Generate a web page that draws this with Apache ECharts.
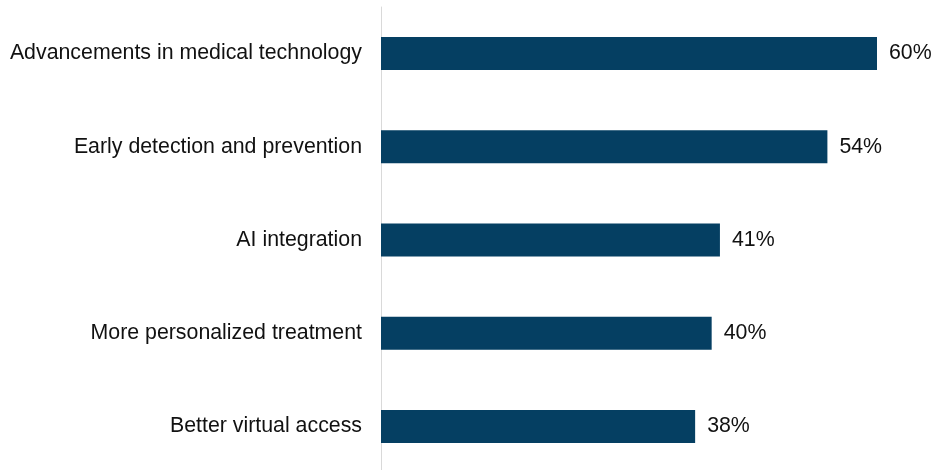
<!DOCTYPE html>
<html>
<head>
<meta charset="utf-8">
<script src="https://cdn.jsdelivr.net/npm/echarts@6/dist/echarts.min.js"></script>
<style>
  html, body { margin: 0; padding: 0; background: #ffffff; }
  #chart { width: 935px; height: 470px; }
</style>
</head>
<body>
<div id="chart"></div>
<script>
// Survey responses: share of respondents per item (percent)
const categories = [
  'Advancements in medical technology',
  'Early detection and prevention',
  'AI integration',
  'More personalized treatment',
  'Better virtual access'
];
const shares = [60, 54, 41, 40, 38];

const chart = echarts.init(document.getElementById('chart'), null, { renderer: 'canvas' });

chart.setOption({
  animation: false,
  grid: {
    left: 381, top: 7, width: 496, height: 466,
    containLabel: false,
    outerBoundsMode: 'none'
  },
  xAxis: {
    type: 'value',
    min: 0,
    max: 60,
    show: false
  },
  yAxis: {
    type: 'category',
    data: categories,
    inverse: true,
    axisLine: { show: true, lineStyle: { color: '#d9d9d9', width: 1 } },
    axisTick: { show: false },
    axisLabel: {
      margin: 19,
      color: '#111111',
      fontFamily: 'Liberation Sans, Arial, sans-serif',
      fontSize: 21.33
    }
  },
  series: [{
    type: 'bar',
    data: shares,
    barWidth: 33,
    itemStyle: { color: '#053f62' },
    label: {
      show: true,
      position: 'right',
      distance: 12,
      formatter: p => p.value + '%',
      color: '#111111',
      fontFamily: 'Liberation Sans, Arial, sans-serif',
      fontSize: 21.33
    }
  }]
});
</script>
</body>
</html>
